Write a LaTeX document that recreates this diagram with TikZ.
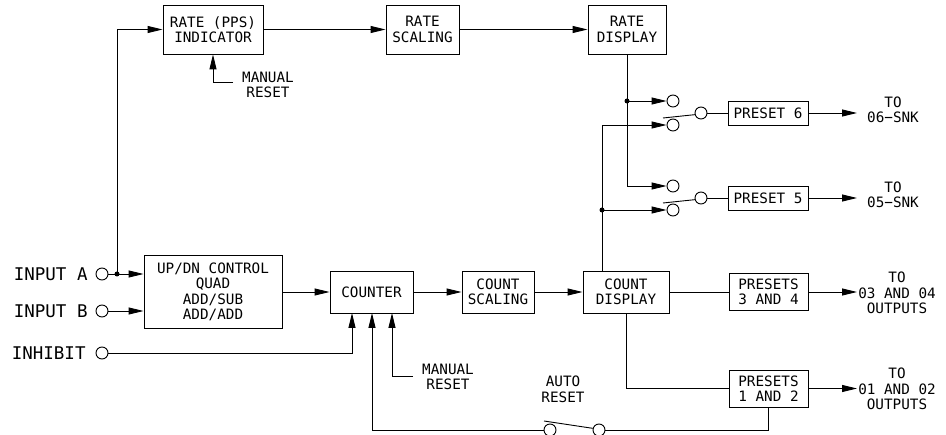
\documentclass[tikz,border=0pt]{standalone}
\usepackage{fontspec}
\newfontfamily\labfont{DejaVu Sans Mono}
\usetikzlibrary{arrows.meta,calc}
\begin{document}
\begin{tikzpicture}[x=1pt,y=-1pt,line width=0.9pt,
  box/.style={draw,align=center,inner sep=0pt,font=\labfont\fontsize{14.3}{15.5}\selectfont},
  lbl/.style={align=center,inner sep=0pt,font=\labfont\fontsize{14.3}{15.5}\selectfont},
  biglbl/.style={inner sep=0pt,font=\labfont\fontsize{17.5}{19}\selectfont},
  term/.style={circle,draw,fill=white,minimum size=12pt,inner sep=0pt},
  jdot/.style={circle,fill,minimum size=5pt,inner sep=0pt},
  arr/.style={-{Triangle[length=15pt,width=7pt]}}]
\useasboundingbox (0,0) rectangle (946,435);

% boxes
\node[box,minimum width=100pt,minimum height=49pt] (rpi) at (213,29.5) {RATE (PPS)\\INDICATOR};
\node[box,minimum width=73pt,minimum height=49pt] (rsc) at (422.5,29.5) {RATE\\SCALING};
\node[box,minimum width=78pt,minimum height=49pt] (rdisp) at (627,29.5) {RATE\\DISPLAY};
\node[box,minimum width=138pt,minimum height=73pt] (updn) at (213,292) {UP/DN CONTROL\\QUAD\\ADD/SUB\\ADD/ADD};
\node[box,minimum width=83pt,minimum height=42pt] (counter) at (371.5,292) {COUNTER};
\node[box,minimum width=72pt,minimum height=42pt] (csc) at (498,292) {COUNT\\SCALING};
\node[box,minimum width=86pt,minimum height=42pt] (cdisp) at (626,292) {COUNT\\DISPLAY};
\node[box,minimum width=79pt,minimum height=37pt] (p34) at (768.5,292) {PRESETS\\3 AND 4};
\node[box,minimum width=79pt,minimum height=37pt] (p12) at (768.5,388.5) {PRESETS\\1 AND 2};
\node[box,minimum width=80pt,minimum height=24pt] (p6) at (768,113) {PRESET 6};
\node[box,minimum width=80pt,minimum height=24pt] (p5) at (768,198) {PRESET 5};

% terminals
\node[term] (ina) at (102,274) {};
\node[term] (inb) at (102,311) {};
\node[term] (inh) at (102,353) {};
\node[term] (c6a) at (673,101) {};
\node[term] (c6b) at (673,125) {};
\node[term] (c6p) at (701,113) {};
\node[term] (c5a) at (673,186) {};
\node[term] (c5b) at (673,210) {};
\node[term] (c5p) at (701,198) {};
\node[term] (swL) at (550,430) {};
\node[term] (swR) at (599,430) {};

% junction dots
\node[jdot] (dA) at (117,274) {};
\node[jdot] (d6) at (627,101) {};
\node[jdot] (d5) at (602,210) {};

% labels
\node[biglbl,anchor=east] (la) at (88,274) {INPUT A};
\node[biglbl,anchor=east] (lb) at (88,311) {INPUT B};
\node[biglbl,anchor=east] (lh) at (86,353) {INHIBIT};
\node[lbl] (mr1) at (268,85) {MANUAL\\RESET};
\node[lbl] (mr2) at (448,377) {MANUAL\\RESET};
\node[lbl] (ar) at (563,389.5) {AUTO\\RESET};
\node[lbl] (t6) at (893,110) {TO\\06−SNK};
\node[lbl] (t5) at (893,195) {TO\\05−SNK};
\node[lbl] (t34) at (897,293) {TO\\03 AND 04\\OUTPUTS};
\node[lbl] (t12) at (897,389) {TO\\01 AND 02\\OUTPUTS};

% coordinates
\coordinate (vtop) at (602,125);
\coordinate (o6) at (857,113);
\coordinate (o5) at (857,198);
\coordinate (o34) at (857,292);
\coordinate (o12) at (857,388.5);
\coordinate (mr1c) at (233,82);
\coordinate (mr2c) at (413,376);
\coordinate (k1) at (352,313);
\coordinate (k2) at (372,313);
\coordinate (k3) at (392,313);
\coordinate (arm6) at (663,118);
\coordinate (arm5) at (663,203);
\coordinate (armA) at (544,421);

% rate path
\draw[arr] (dA.center) |- (rpi.west);
\draw[arr] (rpi) -- (rsc);
\draw[arr] (rsc) -- (rdisp);
\draw[arr] (mr1c) -| (rpi.south);
\draw (rdisp.south) -- (d6.center);
\draw[arr] (d6.center) -- (c6a.west);
\draw[arr] (d6.center) |- (c5a.west);

% count to presets 5/6
\draw[arr] (cdisp.north -| vtop) -- (vtop) -- (c6b.west);
\draw[arr] (d5.center) -- (c5b.west);

% switches
\draw (arm6) -- (c6p.195);
\draw (arm5) -- (c5p.195);
\draw (c6p.east) -- (p6.west);
\draw (c5p.east) -- (p5.west);
\draw[arr] (p6.east) -- (o6);
\draw[arr] (p5.east) -- (o5);

% inputs
\draw (ina.east) -- (dA.center);
\draw[arr] (dA.center) -- (dA -| updn.west);
\draw[arr] (inb.east) -- (inb -| updn.west);
\draw[arr] (inh.east) -| (k1);

% count chain
\draw[arr] (updn) -- (counter);
\draw[arr] (counter) -- (csc);
\draw[arr] (csc) -- (cdisp);
\draw[arr] (mr2c) -| (k3);
\draw[arr] (swL.west) -| (k2);
\draw (armA) -- (swR.165);
\draw (swR.east) -| (p12.south);

% presets 1-4
\draw (cdisp.east) -- (p34.west);
\draw[arr] (p34.east) -- (o34);
\draw (cdisp.south) |- (p12.west);
\draw[arr] (p12.east) -- (o12);
\end{tikzpicture}
\end{document}
